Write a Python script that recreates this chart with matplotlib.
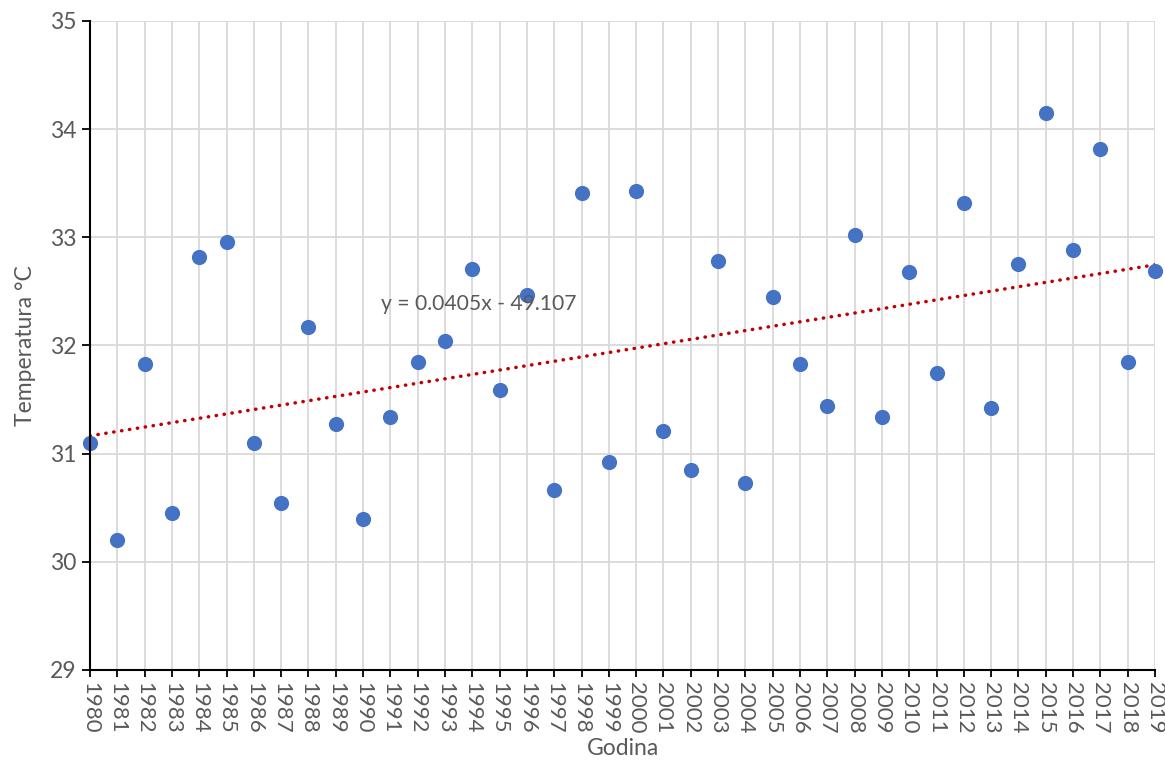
import numpy as np
import matplotlib
matplotlib.use("Agg")
import matplotlib.pyplot as plt

plt.rcParams['font.family'] = ['Lato', 'DejaVu Sans']

# Data
years = list(range(1980, 2020))
temps = [31.10, 30.20, 31.83, 30.45, 32.82, 32.96, 31.10, 30.54, 32.17, 31.27,
         30.40, 31.34, 31.85, 32.04, 32.71, 31.59, 32.47, 30.66, 33.41, 30.92,
         33.43, 31.21, 30.85, 32.78, 30.73, 32.45, 31.83, 31.44, 33.02, 31.34,
         32.68, 31.75, 33.32, 31.42, 32.75, 34.15, 32.88, 33.82, 31.85, 32.69]
trend_label = "y = 0.0405x - 49.107"

gray = '#595959'

fig = plt.figure(figsize=(11.65, 7.6), dpi=100)
ax = fig.add_axes([90 / 1165, 1 - 670 / 760, (1155 - 90) / 1165, (670 - 21) / 760])

# Linear trendline
x = np.array(years)
y = np.array(temps)
k, b = np.polyfit(x, y, 1)
ax.plot(x, k * x + b, color='#C00000', linewidth=2.5,
        linestyle=(0, (0.1, 2.2)), dash_capstyle='round', zorder=2)

# Scatter points
ax.scatter(years, temps, s=120, color='#4472C4', zorder=3, clip_on=False,
           linewidths=0)

ax.text(1990.65, 32.38, trend_label, ha='left', va='center',
        fontsize=15.2, color=gray)

ax.set_xlim(1980, 2019)
ax.set_ylim(29, 35)
ax.set_xticks(years)
ax.set_xticklabels([str(v) for v in years], rotation=270, fontsize=16,
                   color=gray)
ax.set_yticks(range(29, 36))
ax.tick_params(axis='y', labelsize=16.5, labelcolor=gray, direction='out',
               length=6, width=1.3, color='black')
ax.tick_params(axis='x', direction='out', length=5, width=1.3,
               color='black', pad=4)

ax.grid(True, color='#D9D9D9', linewidth=1.3)
ax.set_axisbelow(True)

for side in ['top', 'right']:
    ax.spines[side].set_visible(False)
for side in ['left', 'bottom']:
    ax.spines[side].set_color('black')
    ax.spines[side].set_linewidth(1.5)
    ax.spines[side].set_zorder(4)

ax.set_xlabel("Godina", fontsize=16.5, color=gray, labelpad=3)
ax.set_ylabel("Temperatura °C", fontsize=16.5, color=gray, labelpad=10)

fig.savefig("out.png", dpi=100)
